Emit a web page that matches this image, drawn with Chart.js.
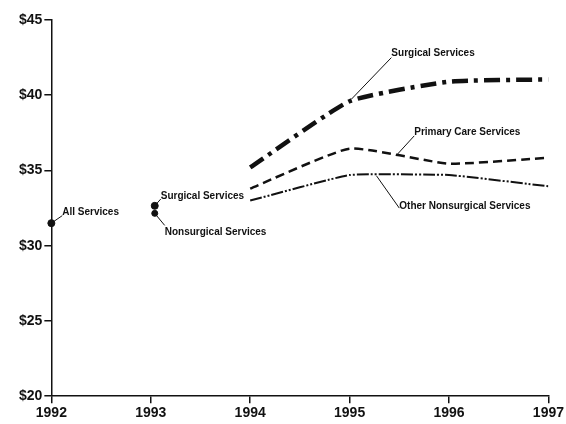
<!DOCTYPE html>
<html>
<head>
<meta charset="utf-8">
<script src="https://cdn.jsdelivr.net/npm/chart.js@4.4.1/dist/chart.umd.min.js"></script>
<style>
  html, body { margin: 0; padding: 0; background: #fff; }
  #wrap { width: 566px; height: 424px; }
</style>
</head>
<body>
<div id="wrap"><canvas id="feeChart"></canvas></div>
<script>
// Values (dollars)
const years = [1994, 1995, 1996, 1997];
const surgicalFees = [35.2, 39.6, 40.9, 41.05];
const primaryCareFees = [33.8, 36.45, 35.45, 35.85];
const otherNonsurgicalFees = [33.0, 34.7, 34.7, 33.95];

const allServices1992 = 31.5;
const surgical1993 = 32.65;
const nonsurgical1993 = 32.15;

const yTicks = [20, 25, 30, 35, 40, 45];
const xTicks = [1992, 1993, 1994, 1995, 1996, 1997];

function toPoints(xs, ys) {
    return xs.map((x, i) => ({ x: x, y: ys[i] }));
}

// Labels with leader lines, positioned in data units
const notes = [
    { text: 'All Services', from: [1992, allServices1992], to: [1992.11, 32.0], at: [1992.11, 32.2] },
    { text: 'Surgical Services', from: [1993.04, surgical1993], to: [1993.1, 33.1], at: [1993.1, 33.3] },
    { text: 'Nonsurgical Services', from: [1993.04, nonsurgical1993], to: [1993.14, 31.35], at: [1993.14, 30.9] },
    { text: 'Surgical Services', from: [1995.02, 39.75], to: [1995.42, 42.5], at: [1995.42, 42.8] },
    { text: 'Primary Care Services', from: [1995.47, 36.0], to: [1995.65, 37.3], at: [1995.65, 37.55] },
    { text: 'Other Nonsurgical Services', from: [1995.27, 34.65], to: [1995.5, 32.5], at: [1995.5, 32.6] }
];

const notesPlugin = {
    id: 'notes',
    afterDatasetsDraw(chart) {
        const ctx = chart.ctx;
        const xs = chart.scales.x;
        const ys = chart.scales.y;
        ctx.save();
        ctx.strokeStyle = '#111';
        ctx.lineWidth = 1;
        ctx.fillStyle = '#111';
        ctx.font = 'bold 10px "Liberation Sans", Arial, sans-serif';
        ctx.textBaseline = 'middle';
        notes.forEach(n => {
            ctx.beginPath();
            ctx.moveTo(xs.getPixelForValue(n.from[0]), ys.getPixelForValue(n.from[1]));
            ctx.lineTo(xs.getPixelForValue(n.to[0]), ys.getPixelForValue(n.to[1]));
            ctx.stroke();
            ctx.fillText(n.text, xs.getPixelForValue(n.at[0]), ys.getPixelForValue(n.at[1]));
        });
        ctx.restore();
    }
};

const ctx = document.getElementById('feeChart').getContext('2d');

new Chart(ctx, {
    type: 'line',
    data: {
        datasets: [
            {
                label: 'Surgical Services',
                data: toPoints(years, surgicalFees),
                borderColor: '#111',
                borderWidth: 4.5,
                borderDash: [16, 6, 4, 6],
                pointRadius: 0,
                tension: 0.15
            },
            {
                label: 'Primary Care Services',
                data: toPoints(years, primaryCareFees),
                borderColor: '#111',
                borderWidth: 2.5,
                borderDash: [9, 5],
                pointRadius: 0,
                tension: 0.15
            },
            {
                label: 'Other Nonsurgical Services',
                data: toPoints(years, otherNonsurgicalFees),
                borderColor: '#111',
                borderWidth: 2,
                borderDash: [12, 2, 2, 2, 2, 2],
                pointRadius: 0,
                tension: 0.1
            },
            {
                label: 'All Services',
                data: [{ x: 1992, y: allServices1992 }],
                showLine: false,
                clip: false,
                pointRadius: 3.5,
                pointBackgroundColor: '#111',
                pointBorderColor: '#111'
            },
            {
                label: 'Surgical 1993',
                data: [{ x: 1993.04, y: surgical1993 }],
                showLine: false,
                pointRadius: 3.5,
                pointBackgroundColor: '#111',
                pointBorderColor: '#111'
            },
            {
                label: 'Nonsurgical 1993',
                data: [{ x: 1993.04, y: nonsurgical1993 }],
                showLine: false,
                pointRadius: 3,
                pointBackgroundColor: '#111',
                pointBorderColor: '#111'
            }
        ]
    },
    options: {
        responsive: true,
        maintainAspectRatio: false,
        animation: false,
        layout: { padding: { top: 20, right: 6, left: 17, bottom: 0 } },
        plugins: {
            legend: { display: false },
            tooltip: { enabled: false }
        },
        scales: {
            x: {
                type: 'linear',
                min: 1992,
                max: 1997,
                afterBuildTicks: axis => { axis.ticks = xTicks.map(v => ({ value: v })); },
                grid: { drawOnChartArea: false, drawTicks: true, tickLength: 7, color: '#111', lineWidth: 1.5 },
                border: { color: '#111', width: 1.5 },
                ticks: {
                    color: '#111',
                    font: { family: '"Liberation Sans", Arial, sans-serif', size: 14, weight: 'bold' },
                    padding: 2,
                    maxRotation: 0,
                    callback: v => String(v)
                }
            },
            y: {
                min: 20,
                max: 45,
                afterBuildTicks: axis => { axis.ticks = yTicks.map(v => ({ value: v })); },
                grid: { drawOnChartArea: false, drawTicks: true, tickLength: 7, color: '#111', lineWidth: 1.5 },
                border: { color: '#111', width: 1.5 },
                ticks: {
                    color: '#111',
                    font: { family: '"Liberation Sans", Arial, sans-serif', size: 14, weight: 'bold' },
                    padding: 2,
                    callback: v => '$' + v
                }
            }
        }
    },
    plugins: [notesPlugin]
});
</script>
</body>
</html>
